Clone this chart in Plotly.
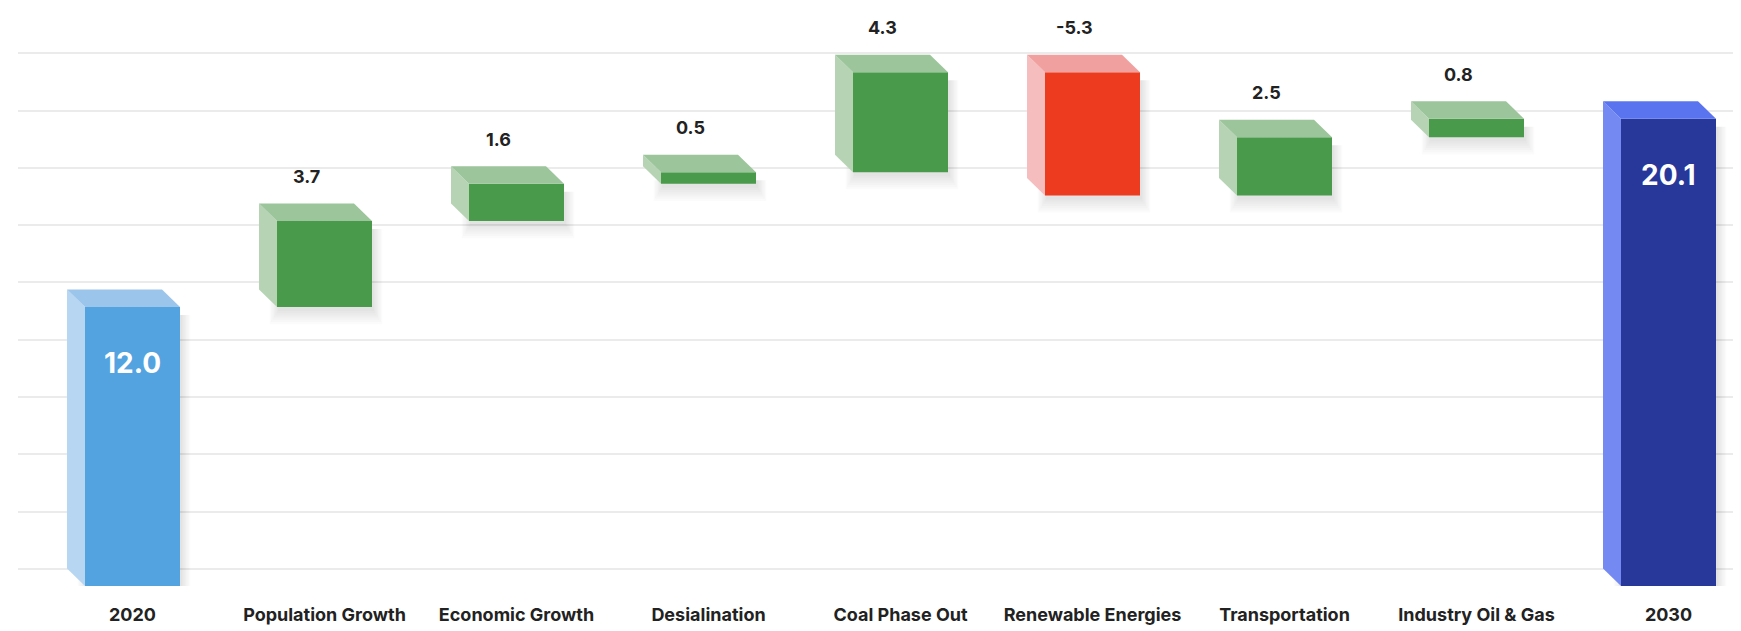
import plotly.graph_objects as go

# ---------------- data ----------------
categories = ["2020", "Population Growth", "Economic Growth", "Desialination",
              "Coal Phase Out", "Renewable Energies", "Transportation",
              "Industry Oil & Gas", "2030"]
values = [12.0, 3.7, 1.6, 0.5, 4.3, -5.3, 2.5, 0.8, 20.1]
measures = ["absolute", "relative", "relative", "relative", "relative",
            "relative", "relative", "relative", "total"]
value_labels = ["12.0", "3.7", "1.6", "0.5", "4.3", "-5.3", "2.5", "0.8", "20.1"]

# ---------------- styles ----------------
PX_X = 192.0      # pixels per category
PX_Y = 23.25      # pixels per unit
W = 95 / PX_X     # front face width
DX = 18 / PX_X    # depth offset (left)
DY = 17.5 / PX_Y  # depth offset (up)

palette = {
    "start": dict(front="#52a3e0", side="#b7d6f1", top="#9cc5eb"),
    "up":    dict(front="#4a9a4c", side="#b6d4b4", top="#9cc59b"),
    "down":  dict(front="#ec3b1e", side="#f5bdbd", top="#f0a19f"),
    "end":   dict(front="#27389a", side="#7489f2", top="#5a74ef"),
}
FONT = "Inter"

# ---------------- geometry from data ----------------
lo, hi, kind = [], [], []
run = 0.0
for v, m in zip(values, measures):
    if m == "absolute":
        a, b = 0.0, v
        run = v
        kind.append("start")
    elif m == "total":
        a, b = 0.0, run
        kind.append("end")
    else:
        a, b = run, run + v
        run += v
        kind.append("up" if v >= 0 else "down")
    lo.append(min(a, b))
    hi.append(max(a, b))

xs = list(range(len(categories)))
fig = go.Figure()

# soft drop shadows (between grid and traces)
shapes = []
for i in xs:
    for k in range(7):
        ex = (1 + k * 1.4) / PX_X
        ey = (1 + k * 2.2) / PX_Y
        shapes.append(dict(
            type="rect", xref="x", yref="y", layer="between",
            x0=i - W / 2 - ex + 2 / PX_X, x1=i + W / 2 + ex + 1 / PX_X,
            y0=lo[i] - ey - 3 / PX_Y, y1=hi[i] - 8 / PX_Y,
            fillcolor="rgba(0,0,0,0.016)", line=dict(width=0)))

# front faces as bars
fig.add_trace(go.Bar(
    x=xs, y=[h - l for h, l in zip(hi, lo)], base=lo, width=W,
    marker=dict(color=[palette[k]["front"] for k in kind], line=dict(width=0)),
    hoverinfo="skip", showlegend=False))

# side and top faces
for i in xs:
    L = i - W / 2
    R = i + W / 2
    c = palette[kind[i]]
    fig.add_trace(go.Scatter(
        x=[L - DX, L, L, L - DX, L - DX],
        y=[hi[i] + DY, hi[i], lo[i], lo[i] + DY, hi[i] + DY],
        fill="toself", fillcolor=c["side"], mode="lines", line=dict(width=0),
        hoverinfo="skip", showlegend=False))
    fig.add_trace(go.Scatter(
        x=[L - DX, R - DX, R, L, L - DX],
        y=[hi[i] + DY, hi[i] + DY, hi[i], hi[i], hi[i] + DY],
        fill="toself", fillcolor=c["top"], mode="lines", line=dict(width=0),
        hoverinfo="skip", showlegend=False))

annotations = []
for i in xs:
    if kind[i] in ("start", "end"):
        annotations.append(dict(
            x=i, y=hi[i], xref="x", yref="y", text=value_labels[i],
            showarrow=False, yshift=-56,
            font=dict(family=FONT, size=28, color="white", weight=700)))
    else:
        annotations.append(dict(
            x=i - DX, y=hi[i] + DY, xref="x", yref="y", text=value_labels[i],
            showarrow=False, yshift=27,
            font=dict(family=FONT, size=18, color="#222222", weight=700)))

x0 = -(124.5 - 10) / PX_X
x1 = x0 + 1731 / PX_X
fig.update_layout(
    width=1741, height=631,
    margin=dict(l=10, r=0, t=0, b=53),
    paper_bgcolor="white", plot_bgcolor="white",
    barmode="overlay",
    shapes=shapes, annotations=annotations,
    xaxis=dict(range=[x0, x1], tickmode="array", tickvals=xs, ticktext=categories,
               showgrid=False, zeroline=False, showline=False, ticks="",
               ticklabelstandoff=16,
               tickfont=dict(family=FONT, size=18, color="#222222", weight=700)),
    yaxis=dict(range=[0, 578 / PX_Y], showticklabels=False, zeroline=False,
               showgrid=True, gridcolor="#ebebeb", gridwidth=1.5,
               tickmode="linear", tick0=0.73, dtick=2.465),
)

fig.write_html("out.html")
